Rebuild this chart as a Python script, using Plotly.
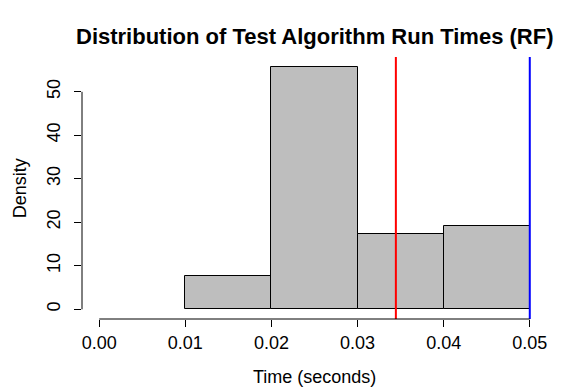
import plotly.graph_objects as go

# Data
bin_left = [0.01, 0.02, 0.03, 0.04]
bin_width = 0.01
density = [7.69, 55.77, 17.31, 19.23]
mean_line = 0.03445
limit_line = 0.05
x_ticks = [0.00, 0.01, 0.02, 0.03, 0.04, 0.05]
x_ticklabels = ["0.00", "0.01", "0.02", "0.03", "0.04", "0.05"]
y_ticks = [0, 10, 20, 30, 40, 50]
y_ticklabels = ["0", "10", "20", "30", "40", "50"]

FONT = "Liberation Sans, Arial, Helvetica, sans-serif"

# page has an 8px body margin; figure is placed at (8, 8)
OFF = 8
W, H = 564 - OFF, 388 - OFF
# plot region in page pixels
PL, PR, PT, PB = 81.7, 547.2, 56.7, 318.7
ml, mr = PL - OFF, W - (PR - OFF)
mt, mb = PT - OFF, H - (PB - OFF)
ph = PB - PT
pw = PR - PL

x_centers = [l + bin_width / 2 for l in bin_left]
ymax = max(density)
xlo, xhi = x_ticks[0], x_ticks[-1]
xr = [xlo - 0.04 * (xhi - xlo), xhi + 0.04 * (xhi - xlo)]
yr = [0 - 0.04 * ymax, ymax + 0.04 * ymax]

fig = go.Figure()
fig.add_trace(go.Bar(
    x=x_centers, y=density, width=[bin_width] * len(density),
    marker=dict(color="#BEBEBE", line=dict(color="black", width=1)),
    showlegend=False, hoverinfo="skip",
))

fig.add_vline(x=mean_line, line=dict(color="red", width=2))
fig.add_vline(x=limit_line, line=dict(color="blue", width=2))

# axis lines (R style, only spanning tick range)
fig.add_shape(type="line", xref="x", yref="paper", x0=x_ticks[0], x1=x_ticks[-1], y0=0, y1=0,
              line=dict(color="black", width=1))
fig.add_shape(type="line", xref="paper", yref="y", x0=0, x1=0, y0=y_ticks[0], y1=y_ticks[-1],
              line=dict(color="black", width=1))

fig.update_layout(
    width=W, height=H,
    margin=dict(l=ml, r=mr, t=mt, b=mb, pad=0),
    paper_bgcolor="white", plot_bgcolor="white",
    font=dict(family=FONT, size=18, color="black"),
    bargap=0,
    xaxis=dict(range=xr, tickvals=x_ticks, ticktext=x_ticklabels, ticks="outside",
               ticklen=7, tickcolor="black", showline=False, showgrid=False,
               zeroline=False, tickfont=dict(size=18), fixedrange=True),
    yaxis=dict(range=yr, tickvals=y_ticks, ticktext=y_ticklabels, ticks="outside",
               ticklen=7, tickcolor="black", showline=False, showgrid=False,
               zeroline=False, tickangle=-90, tickfont=dict(size=18), fixedrange=True,
               ticklabelstandoff=7),
    annotations=[
        dict(text="<b>Distribution of Test Algorithm Run Times (RF)</b>", xref="paper", yref="paper",
             x=0.5, y=(PB - 36) / ph, xanchor="center", yanchor="middle",
             showarrow=False, font=dict(size=22)),
        dict(text="Time (seconds)", xref="paper", yref="paper",
             x=0.5, y=(PB - 377) / ph, xanchor="center", yanchor="middle",
             showarrow=False, font=dict(size=18)),
        dict(text="Density", xref="paper", yref="paper",
             x=(20 - PL) / pw, y=0.5, xanchor="center", yanchor="middle",
             textangle=-90, showarrow=False, font=dict(size=18)),
    ],
)

fig.write_html("out.html")
